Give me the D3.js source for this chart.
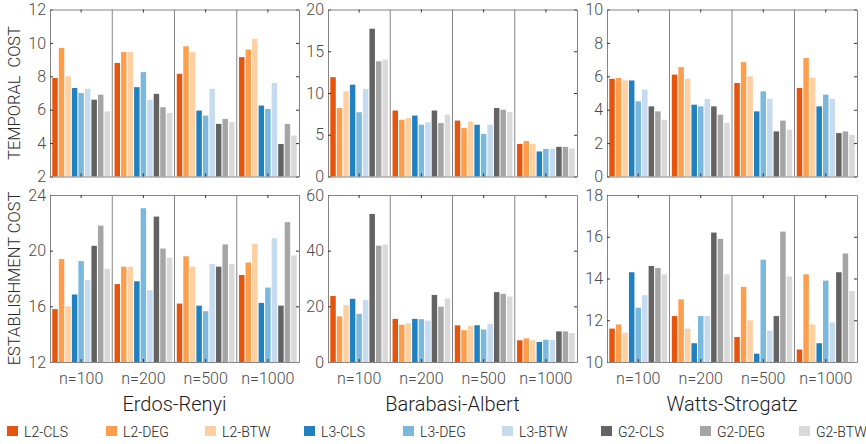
<!DOCTYPE html>
<html>
<head>
<meta charset="utf-8">
<script src="https://cdn.jsdelivr.net/npm/d3@7"></script>
<style>
  body { margin: 0; background: #fff; }
  text { font-family: Roboto, "DejaVu Sans", sans-serif; }
</style>
</head>
<body>
<script>
// groups, series and colours
const groups = ["n=100", "n=200", "n=500", "n=1000"];
const series = ["L2-CLS", "L2-DEG", "L2-BTW", "L3-CLS", "L3-DEG", "L3-BTW", "G2-CLS", "G2-DEG", "G2-BTW"];
const colors = ["#e6550d", "#fd9e4c", "#fdd0a2", "#2081c0", "#7bb8de", "#c6dbef", "#636363", "#a5a5a5", "#d9d9d9"];
const networks = ["Erdos-Renyi", "Barabasi-Albert", "Watts-Strogatz"];
const rowLabels = ["TEMPORAL  COST", "ESTABLISHMENT COST"];

// temporal cost, one row per group (n=100..1000), 9 series each
const erTemporal = [
  [7.9, 9.7, 8.0, 7.3, 7.0, 7.25, 6.6, 6.9, 5.9],
  [8.8, 9.45, 9.45, 7.35, 8.25, 6.6, 6.95, 6.15, 5.8],
  [8.15, 9.8, 9.45, 5.95, 5.65, 7.25, 5.15, 5.45, 5.25],
  [9.15, 9.6, 10.25, 6.25, 6.05, 7.6, 3.95, 5.15, 4.45]
];
const baTemporal = [
  [11.9, 8.2, 10.2, 11.0, 7.7, 10.5, 17.7, 13.8, 14.0],
  [7.9, 6.8, 7.0, 7.3, 6.2, 6.5, 7.9, 6.4, 7.4],
  [6.7, 5.8, 6.6, 6.2, 5.1, 6.2, 8.2, 8.0, 7.7],
  [3.9, 4.25, 3.9, 3.0, 3.3, 3.35, 3.55, 3.55, 3.35]
];
const wsTemporal = [
  [5.85, 5.9, 5.75, 5.75, 4.5, 5.2, 4.2, 3.9, 3.4],
  [6.1, 6.55, 5.85, 4.3, 4.2, 4.65, 4.2, 3.7, 3.2],
  [5.6, 6.85, 6.0, 3.9, 5.1, 4.65, 2.7, 3.35, 2.8],
  [5.3, 7.1, 5.9, 4.2, 4.9, 4.65, 2.6, 2.7, 2.5]
];

// establishment cost
const erEstablish = [
  [15.8, 19.4, 16.0, 16.85, 19.25, 17.9, 20.35, 21.8, 18.7],
  [17.6, 18.85, 18.85, 17.8, 23.05, 17.15, 22.45, 20.15, 19.5],
  [16.2, 19.6, 18.85, 16.05, 15.65, 19.05, 18.85, 20.45, 19.05],
  [18.25, 19.15, 20.5, 16.25, 17.35, 20.9, 16.05, 22.05, 19.65]
];
const baEstablish = [
  [23.7, 16.4, 20.4, 22.7, 17.3, 22.3, 53.2, 41.8, 42.2],
  [15.5, 13.4, 13.9, 15.5, 15.4, 14.9, 24.1, 19.9, 22.8],
  [13.2, 11.4, 13.0, 13.2, 11.7, 13.7, 25.1, 24.5, 23.5],
  [7.8, 8.5, 7.8, 7.2, 8.0, 7.9, 11.0, 11.0, 10.4]
];
const wsEstablish = [
  [11.6, 11.8, 11.4, 14.3, 12.6, 13.2, 14.6, 14.5, 14.2],
  [12.2, 13.0, 11.6, 10.9, 12.2, 12.2, 16.2, 15.9, 14.2],
  [11.2, 13.6, 12.0, 10.4, 14.9, 11.5, 12.2, 16.25, 14.1],
  [10.6, 14.2, 11.8, 10.9, 13.9, 11.9, 14.3, 15.2, 13.4]
];

// y tick labels per panel
const erTemporalTicks = [2, 4, 6, 8, 10, 12];
const baTemporalTicks = [0, 5, 10, 15, 20];
const wsTemporalTicks = [0, 2, 4, 6, 8, 10];
const erEstablishTicks = [12, 16, 20, 24];
const baEstablishTicks = [0, 20, 40, 60];
const wsEstablishTicks = [10, 12, 14, 16, 18];

const panels = [
  [ {data: erTemporal, ticks: erTemporalTicks}, {data: baTemporal, ticks: baTemporalTicks}, {data: wsTemporal, ticks: wsTemporalTicks} ],
  [ {data: erEstablish, ticks: erEstablishTicks}, {data: baEstablish, ticks: baEstablishTicks}, {data: wsEstablish, ticks: wsEstablishTicks} ]
];

const w = 866, h = 444;
const colX = [[50, 299], [328, 577], [607, 857]];
const rowY = [[9.5, 176.5], [195, 362]];
const frameColor = "#858585";
const textColor = "#4a4a4a";

const svg = d3.select("body").append("svg")
  .attr("width", w)
  .attr("height", h);

panels.forEach((row, r) => {
  row.forEach((p, c) => {
    const [x0, x1] = colX[c];
    const [y0, y1] = rowY[r];

    const x = d3.scaleBand().domain(groups).range([x0, x1]);
    const xs = d3.scaleBand().domain(series).range([0, x.bandwidth()])
      .paddingInner(0.16).paddingOuter(0.35);
    const y = d3.scaleLinear().domain(d3.extent(p.ticks)).range([y1, y0]);

    const g = svg.append("g");

    // bars
    g.selectAll(".grp")
      .data(p.data)
      .enter()
      .append("g")
      .attr("transform", (d, i) => `translate(${x(groups[i])},0)`)
      .selectAll("rect")
      .data(d => d)
      .enter()
      .append("rect")
      .attr("x", (d, i) => xs(series[i]))
      .attr("width", xs.bandwidth())
      .attr("y", d => y(d))
      .attr("height", d => y1 - y(d))
      .attr("fill", (d, i) => colors[i]);

    // group dividers
    g.selectAll(".div")
      .data(groups.slice(1))
      .enter()
      .append("line")
      .attr("x1", d => x(d)).attr("x2", d => x(d))
      .attr("y1", y0).attr("y2", y1)
      .attr("stroke", frameColor)
      .attr("stroke-width", 1);

    // axes, ticks pointing inward
    const left = g.append("g").attr("transform", `translate(${x0},0)`)
      .call(d3.axisLeft(y).tickValues(p.ticks).tickSize(-3).tickSizeOuter(0).tickPadding(4));
    const right = g.append("g").attr("transform", `translate(${x1},0)`)
      .call(d3.axisRight(y).tickValues(p.ticks).tickSize(-3).tickSizeOuter(0).tickFormat(""));
    const top = g.append("g").attr("transform", `translate(0,${y0})`)
      .call(d3.axisTop(x).tickSize(-3).tickSizeOuter(0).tickFormat(""));
    const bottom = g.append("g").attr("transform", `translate(0,${y1})`)
      .call(d3.axisBottom(x).tickSize(-3).tickSizeOuter(0).tickPadding(11)
        .tickFormat(r === 1 ? (d => d) : ""));

    [left, right, top, bottom].forEach(a => {
      a.select(".domain").attr("stroke", frameColor);
      a.selectAll(".tick line").attr("stroke", "#333");
      a.selectAll("text").attr("fill", textColor).style("font-size", "16px")
        .style("font-weight", 300).attr("font-family", null);
    });

    if (r === 1) {
      svg.append("text")
        .attr("x", (x0 + x1) / 2)
        .attr("y", 411)
        .attr("text-anchor", "middle")
        .attr("fill", "#1a1a1a")
        .style("font-size", "20px")
        .style("font-weight", 300)
        .text(networks[c]);
    }
  });

  // row label
  svg.append("text")
    .attr("transform", `translate(20,${(rowY[r][0] + rowY[r][1]) / 2}) rotate(-90)`)
    .attr("text-anchor", "middle")
    .attr("fill", "#2a2a2a")
    .style("font-size", "16.5px")
    .style("font-weight", 300)
    .style("white-space", "pre")
    .text(rowLabels[r]);
});

// legend
const legend = svg.append("g").attr("transform", "translate(7,426)");
const item = legend.selectAll(".item")
  .data(series)
  .enter()
  .append("g")
  .attr("transform", (d, i) => `translate(${i * 99},0)`);

item.append("rect")
  .attr("width", 11)
  .attr("height", 10)
  .attr("fill", (d, i) => colors[i]);

item.append("text")
  .attr("x", 17)
  .attr("y", 11)
  .attr("fill", "#1a1a1a")
  .style("font-size", "14px")
  .style("font-weight", 300)
  .text(d => d);
</script>
</body>
</html>
